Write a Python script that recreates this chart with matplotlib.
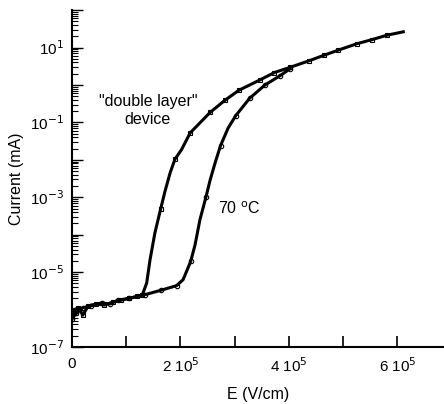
import matplotlib
matplotlib.use("Agg")
import matplotlib.pyplot as plt
import numpy as np
from matplotlib.ticker import FixedLocator, LogLocator, NullFormatter, FuncFormatter

plt.rcParams['font.family'] = ['Liberation Sans', 'DejaVu Sans']

# "double layer" device (squares); E in units of 1e5 V/cm, log10(current / mA)
x_dl = [0.0, 0.05, 0.12, 0.2, 0.3, 0.45, 0.6, 0.75, 0.9, 1.05, 1.2, 1.3,
        1.378, 1.44, 1.53, 1.636, 1.716, 1.81, 1.90, 2.02, 2.18, 2.55, 2.82, 3.08, 3.46,
        3.73, 4.02, 4.38, 4.64, 4.91, 5.25, 5.53, 5.81, 6.11]
y_dl = [-6.25, -6.0, -5.95, -6.15, -5.9, -5.85, -5.88, -5.8, -5.75, -5.7, -5.65, -5.6,
        -5.29, -4.67, -3.95, -3.31, -2.84, -2.35, -1.98, -1.73, -1.28, -0.73, -0.41, -0.14, 0.13,
        0.33, 0.47, 0.65, 0.79, 0.93, 1.10, 1.21, 1.33, 1.42]
m_dl = [1, 1, 1, 1, 1, 1, 1, 1, 1, 1, 1, 1,
        0, 0, 0, 1, 0, 0, 1, 0, 1, 1, 1, 1, 1,
        1, 1, 1, 1, 1, 1, 1, 1, 0]

# 70 C (circles)
x_70 = [0.0, 0.08, 0.2, 0.35, 0.55, 0.7, 0.85, 1.05, 1.35, 1.65, 1.93, 2.05,
        2.19, 2.27, 2.36, 2.47, 2.55, 2.64, 2.74, 2.88, 3.02, 3.28, 3.56, 3.84, 4.02]
y_70 = [-6.25, -6.1, -5.95, -5.9, -5.82, -5.85, -5.75, -5.7, -5.6, -5.48, -5.36, -5.2,
        -4.71, -4.27, -3.60, -3.0, -2.53, -2.08, -1.62, -1.15, -0.82, -0.35, 0.0, 0.25, 0.43]
m_70 = [1, 1, 1, 1, 1, 1, 1, 1, 1, 1, 1, 0,
        1, 0, 0, 1, 0, 0, 1, 0, 1, 1, 1, 1, 1]

fig = plt.figure(figsize=(4.44, 4.04), dpi=100)
ax = fig.add_axes([0.162, 0.141, 0.838, 0.834])

for xs, ys, ms, mk in [(x_dl, y_dl, m_dl, 's'), (x_70, y_70, m_70, 'o')]:
    xv = np.array(xs) * 1e5
    yv = 10 ** np.array(ys)
    ax.plot(xv, yv, color='black', lw=2.2, solid_joinstyle='round')
    idx = np.array(ms, dtype=bool)
    ax.plot(xv[idx], yv[idx], ls='none', marker=mk, ms=3.2, mfc='none',
            mec='black', mew=0.8)

ax.set_yscale('log')
ax.set_xlim(0, 6.86e5)
ax.set_ylim(1e-7, 1e2)

for s in ['top', 'right']:
    ax.spines[s].set_visible(False)
for s in ['left', 'bottom']:
    ax.spines[s].set_linewidth(1.5)

ax.xaxis.set_major_locator(FixedLocator([0, 2e5, 4e5, 6e5]))
ax.xaxis.set_minor_locator(FixedLocator([1e5, 3e5, 5e5]))
xlabels = {0: '0', 2: r'2 10$^5$', 4: r'4 10$^5$', 6: r'6 10$^5$'}
ax.xaxis.set_major_formatter(FuncFormatter(lambda v, p: xlabels.get(int(round(v / 1e5)), '')))

ax.yaxis.set_major_locator(FixedLocator([10.0 ** k for k in range(-7, 3)]))
ax.yaxis.set_minor_locator(LogLocator(base=10, subs=np.arange(2, 10), numticks=100))
ax.yaxis.set_minor_formatter(NullFormatter())

def yfmt(v, p):
    k = int(round(np.log10(v)))
    if k % 2 != 0:
        return r'10$^{%d}$' % k
    return ''
ax.yaxis.set_major_formatter(FuncFormatter(yfmt))

ax.tick_params(axis='both', which='both', direction='in', labelsize=11)
ax.tick_params(axis='x', which='major', length=8, width=1.2, pad=7)
ax.tick_params(axis='x', which='minor', length=8, width=1.2)
ax.tick_params(axis='y', which='major', length=8, width=1.0, pad=6)
ax.tick_params(axis='y', which='minor', length=4.5, width=0.8)

ax.set_xlabel('E (V/cm)', fontsize=11.5, labelpad=8)
ax.set_ylabel('Current (mA)', fontsize=11.5, labelpad=4)

ax.text(1.4e5, 10 ** -0.68, '"double layer"\ndevice', ha='center', va='center',
        fontsize=11.5, linespacing=1.2)
ax.text(2.7e5, 10 ** -3.3, r'70 $^{\mathrm{o}}$C', ha='left', va='center', fontsize=11.5)

fig.savefig('out.png', dpi=100)
